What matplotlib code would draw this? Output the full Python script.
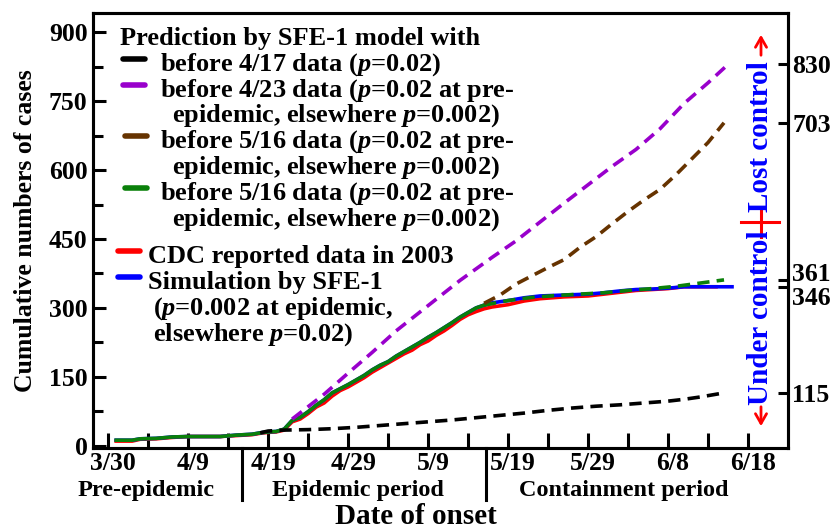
import numpy as np
import matplotlib
matplotlib.use("Agg")
import matplotlib.pyplot as plt
import matplotlib.transforms as mtransforms

plt.rcParams.update({
    'font.family': 'Liberation Serif',
    'font.weight': 'bold',
    'mathtext.fontset': 'custom',
    'mathtext.rm': 'Liberation Serif:bold',
    'mathtext.it': 'Liberation Serif:italic:bold',
    'mathtext.bf': 'Liberation Serif:bold',
})

# day 0 = 3/30
tick_days = [0, 10, 20, 30, 40, 50, 60, 70, 80]
tick_labels = ['3/30', '4/9', '4/19', '4/29', '5/9', '5/19', '5/29', '6/8', '6/18']

# CDC reported cumulative cases
cdc_days = [1, 3, 4, 6, 8, 10, 14, 16, 18, 19, 20, 21, 22, 23, 24, 25, 26, 27, 28, 29,
            30, 31, 32, 33, 34, 35, 36, 37, 38, 39, 40, 41, 42, 43, 44, 45, 46, 47, 48,
            50, 52, 54, 57, 60, 62, 64, 66, 68, 70, 72, 76]
cdc_cases = [10, 10, 14, 15, 18, 20, 20, 22, 24, 27, 29, 30, 34, 52, 58, 70, 84, 93, 108, 120,
             128, 138, 148, 160, 170, 180, 190, 200, 208, 220, 228, 240, 250, 262, 275, 285, 292, 298, 302,
             307, 315, 320, 324, 326, 330, 334, 338, 340, 342, 346, 346]

# SFE-1 simulation
sim_days = [1, 3, 4, 6, 8, 10, 14, 16, 18, 19, 20, 21, 22, 23, 24, 25, 26, 27, 28, 29,
            30, 31, 32, 33, 34, 35, 36, 37, 38, 39, 40, 41, 42, 43, 44, 45, 46, 47, 48,
            50, 52, 54, 57, 60, 62, 64, 66, 68, 70, 72, 75, 78]
sim_cases = [12, 12, 15, 16, 19, 20, 20, 23, 25, 28, 30, 31, 36, 55, 62, 74, 88, 100, 115, 124,
             133, 143, 153, 165, 175, 183, 195, 205, 215, 225, 236, 246, 257, 268, 280, 290, 300, 306, 311,
             316, 322, 326, 328, 330, 333, 337, 340, 341, 343, 346, 346, 346]

# predictions
pred417_days = [19, 20, 22, 25, 28, 31, 34, 37, 40, 43, 46, 49, 52, 55, 58, 61, 64, 67, 70, 72, 74, 77]
pred417_cases = [28, 32, 34, 35, 37, 40, 44, 48, 52, 56, 61, 66, 71, 77, 82, 86, 89, 93, 97, 101, 106, 115]

pred423_days = [23, 25, 27, 30, 33, 36, 40, 44, 48, 51, 54, 57, 60, 63, 66, 69, 72, 75, 77.5]
pred423_cases = [58, 85, 112, 158, 203, 250, 305, 360, 410, 446, 487, 528, 568, 608, 645, 690, 745, 790, 830]

pred516_days = [47, 49, 51, 53, 55, 57, 59, 61, 63, 65, 67, 69, 71, 73, 75, 77]
pred516_cases = [310, 328, 352, 370, 388, 405, 432, 455, 483, 510, 535, 558, 590, 625, 660, 703]

pred516b_days = [47, 50, 53, 56, 59, 62, 65, 68, 71, 74, 77]
pred516b_cases = [306, 316, 323, 327, 330, 333, 338, 342, 347, 354, 361]

right_ticks = [115, 346, 361, 703, 830]

fit_end = 47  # last day of data used in the 5/16 fit
c_purple = '#9900CC'
c_brown = '#663300'
c_green = '#0A800A'

fig = plt.figure(figsize=(8.37, 5.31), dpi=100)
ax = fig.add_axes([93 / 837, 83 / 531, 695 / 837, 435 / 531])

lw = 2.6
dash = (3.4, 2.0)
ax.plot(cdc_days, cdc_cases, color='red', lw=lw, zorder=2)
ax.plot(sim_days, sim_cases, color='blue', lw=lw, zorder=3)
sd = np.array(sim_days)
sc = np.array(sim_cases)
ax.plot(sd[sd <= fit_end], sc[sd <= fit_end], color=c_green, lw=lw, zorder=4)
ax.plot(pred516b_days, pred516b_cases, color=c_green, lw=lw, dashes=dash, zorder=4)
ax.plot(pred516_days, pred516_cases, color=c_brown, lw=lw, dashes=dash, zorder=5)
ax.plot(pred423_days, pred423_cases, color=c_purple, lw=lw, dashes=dash, zorder=5)
ax.plot(pred417_days, pred417_cases, color='black', lw=lw, dashes=dash, zorder=5)

ax.set_xlim(-1.9, 85)
ax.set_ylim(-5, 942)

ax.set_xticks(tick_days)
ax.set_xticklabels(tick_labels)
ax.set_xticks(np.arange(5, 85, 10), minor=True)
ax.set_yticks(np.arange(0, 901, 150))
ax.set_yticks(np.arange(75, 901, 150), minor=True)
ax.tick_params(axis='x', which='both', direction='in', length=11, width=2.2, labelsize=18.5, pad=3)
ax.tick_params(axis='y', which='major', direction='in', length=9, width=2.2, labelsize=18.5, pad=4)
ax.tick_params(axis='y', which='minor', direction='in', length=7, width=2.2)
for s in ax.spines.values():
    s.set_linewidth(2.2)
# date labels sit a little right of their ticks
shift = mtransforms.ScaledTranslation(5 / 100, 0, fig.dpi_scale_trans)
for lab in ax.get_xticklabels():
    lab.set_transform(lab.get_transform() + shift)

# right-hand axis with the end values
ax2 = ax.twinx()
ax2.set_ylim(ax.get_ylim())
ax2.set_yticks(right_ticks)
ax2.set_yticklabels([str(v) for v in right_ticks])
ax2.tick_params(axis='y', direction='in', length=7, width=2.2, labelsize=18.5, pad=3)
for s in ax2.spines.values():
    s.set_linewidth(2.2)
# pull the two close labels apart
nudge = {361: 8, 346: -9}
for v, lab in zip(right_ticks, ax2.get_yticklabels()):
    if v in nudge:
        off = mtransforms.ScaledTranslation(0, nudge[v] / 100, fig.dpi_scale_trans)
        lab.set_transform(lab.get_transform() + off)

# period separators below the axis
trans = mtransforms.blended_transform_factory(ax.transData, ax.transAxes)
for d in [16.75, 47.25]:
    ax.plot([d, d], [0, -0.12], color='black', lw=2.2, transform=trans, clip_on=False)

ax.text(0.076, -0.097, 'Pre-epidemic', transform=ax.transAxes, ha='center', va='center', fontsize=17.5)
ax.text(0.381, -0.097, 'Epidemic period', transform=ax.transAxes, ha='center', va='center', fontsize=17.5)
ax.text(0.764, -0.097, 'Containment period', transform=ax.transAxes, ha='center', va='center', fontsize=17.5)
ax.text(0.465, -0.158, 'Date of onset', transform=ax.transAxes, ha='center', va='center', fontsize=21)
ax.text(-0.097, 0.50, 'Cumulative numbers of cases', transform=ax.transAxes, ha='center', va='center',
        rotation=90, fontsize=18.5)

# legend drawn by hand, positions in pixels from the top-left of the axes box
def fy(py):
    return (448 - py) / 435.0

def fx(px):
    return (px - 93) / 695.0

leg_size = 19
ax.text(fx(120), fy(45), 'Prediction by SFE-1 model with', transform=ax.transAxes,
        va='baseline', ha='left', fontsize=leg_size)
entries = [
    ('black', 123, [('before 4/17 data ($p$=0.02)', 71, 160)]),
    (c_purple, 123, [('before 4/23 data ($p$=0.02 at pre-', 97, 160),
                     ('epidemic, elsewhere $p$=0.002)', 122, 172)]),
    (c_brown, 125, [('before 5/16 data ($p$=0.02 at pre-', 148, 160),
                    ('epidemic, elsewhere $p$=0.002)', 174, 172)]),
    (c_green, 125, [('before 5/16 data ($p$=0.02 at pre-', 200, 160),
                    ('epidemic, elsewhere $p$=0.002)', 226, 172)]),
    ('red', 118, [('CDC reported data in 2003', 263, 148)]),
    ('blue', 118, [('Simulation by SFE-1', 289, 148),
                   ('($p$=0.002 at epidemic,', 315, 153),
                   ('elsewhere $p$=0.02)', 341, 153)]),
]
for color, hx, lines in entries:
    hy = fy(lines[0][1] - 12)
    ax.plot([fx(hx), fx(hx + 22)], [hy, hy], color=color, lw=4, solid_capstyle='round',
            transform=ax.transAxes, clip_on=False)
    for txt, base, x0 in lines:
        ax.text(fx(x0), fy(base), txt, transform=ax.transAxes, va='baseline', ha='left', fontsize=leg_size)

# control-state annotation on the right
ax.text(fx(761), fy(318), 'Under control', transform=ax.transAxes, rotation=90, ha='center',
        va='center', color='blue', fontsize=21)
ax.text(fx(761), fy(137), 'Lost control', transform=ax.transAxes, rotation=90, ha='center',
        va='center', color='blue', fontsize=21)
ax.plot([fx(741), fx(779)], [fy(222), fy(222)], color='red', lw=2.2, transform=ax.transAxes, clip_on=False)
ax.plot([fx(761), fx(761)], [fy(209), fy(237)], color='red', lw=2.2, transform=ax.transAxes, clip_on=False)
ax.annotate('', xy=(fx(761), fy(32)), xytext=(fx(761), fy(58)), xycoords='axes fraction',
            arrowprops=dict(arrowstyle='->,head_length=0.7,head_width=0.4', color='red', lw=2))
ax.annotate('', xy=(fx(761), fy(429)), xytext=(fx(761), fy(404)), xycoords='axes fraction',
            arrowprops=dict(arrowstyle='->,head_length=0.7,head_width=0.4', color='red', lw=2))

fig.savefig('out.png', dpi=100)
